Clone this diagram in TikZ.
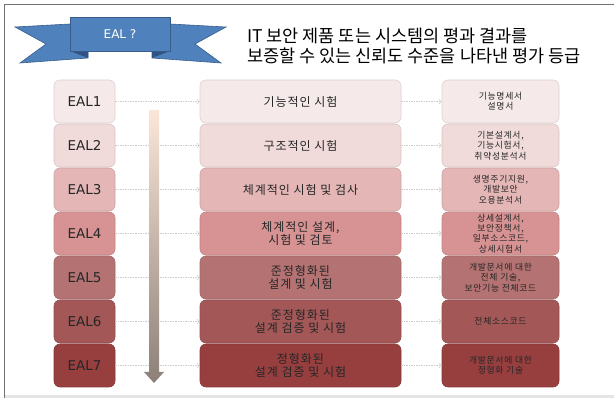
\documentclass[tikz,border=0pt]{standalone}
\usepackage{fontspec}
\setmainfont{Noto Sans CJK KR}[LetterSpace=8]
\newfontfamily\titlefont{Noto Sans CJK KR}
\newfontfamily\latinfont{DejaVu Sans}
\usetikzlibrary{arrows.meta}
\definecolor{c1}{HTML}{F5E9E9}
\definecolor{c2}{HTML}{F0DADA}
\definecolor{c3}{HTML}{E4B6B6}
\definecolor{c4}{HTML}{D79393}
\definecolor{c5}{HTML}{B47272}
\definecolor{c6}{HTML}{A35757}
\definecolor{c7}{HTML}{973F3F}
\definecolor{ribbon}{HTML}{4F81BD}
\definecolor{ribbonedge}{HTML}{385D8A}
\definecolor{ribbonfold}{HTML}{2E5283}
\definecolor{arrtop}{HTML}{FCE6D8}
\definecolor{arrbot}{HTML}{8C8078}
\tikzset{
  cell/.style={fill=#1, draw=#1!90!black, line width=0.6pt, rounded corners=6pt,
    minimum height=43pt, align=center, inner sep=0pt, text=black!85},
  eal/.style={cell=#1, minimum width=61pt, font=\latinfont\fontsize{13.5}{15}\selectfont},
  evalbox/.style={cell=#1, minimum width=201pt, font=\fontsize{12}{13}\selectfont},
  docbox/.style={cell=#1, minimum width=117pt, font=\fontsize{8.8}{10.3}\selectfont},
  conn/.style={draw=black!20, line width=0.5pt, dash pattern=on 1.5pt off 1pt,
    -{Straight Barb[length=2.5pt,width=5pt]}},
}
\begin{document}
\begin{tikzpicture}[x=1pt,y=-1pt]
\useasboundingbox (0,0) rectangle (614,398);
% frame
\fill[black!10] (4,395.5) rectangle (614,398);
\draw[black!55, line width=1.2pt] (4.5,398) -- (4.5,4.5) -- (614,4.5);
% ribbon
\fill[ribbon, draw=ribbonedge, line width=0.6pt] (15,27) -- (88,23) -- (88,58) -- (20,63) -- (46,44) -- cycle;
\fill[ribbon, draw=ribbonedge, line width=0.6pt] (226,27) -- (152,23) -- (152,58) -- (221,63) -- (195,44) -- cycle;
\fill[ribbonfold] (70,51) -- (88,58) -- (88,51) -- cycle;
\fill[ribbonfold] (170,51) -- (152,58) -- (152,51) -- cycle;
\node[fill=ribbon, draw=ribbonedge, line width=0.6pt, minimum width=100pt, minimum height=34pt,
  inner sep=0pt, text=white, font=\latinfont\fontsize{12}{14}\selectfont] (rib) at (120,34) {EAL ?};
\node[anchor=west, align=left, inner sep=0pt, font=\titlefont\fontsize{17.5}{20}\selectfont] (title) at (247,46)
  {IT 보안 제품 또는 시스템의 평과 결과를\\보증할 수 있는 신뢰도 수준을 나타낸 평가 등급};
% rows
\node[eal=c1] (e1) at (84.5,101.5) {EAL1};
\node[eal=c2] (e2) at (84.5,145.5) {EAL2};
\node[eal=c3] (e3) at (84.5,189.5) {EAL3};
\node[eal=c4] (e4) at (84.5,233.5) {EAL4};
\node[eal=c5] (e5) at (84.5,277.5) {EAL5};
\node[eal=c6] (e6) at (84.5,321.5) {EAL6};
\node[eal=c7] (e7) at (84.5,365.5) {EAL7};
\node[evalbox=c1] (d1) at (300.5,101.5) {기능적인 시험};
\node[evalbox=c2] (d2) at (300.5,145.5) {구조적인 시험};
\node[evalbox=c3] (d3) at (300.5,189.5) {체계적인 시험 및 검사};
\node[evalbox=c4] (d4) at (300.5,233.5) {체계적인 설계,\\시험 및 검토};
\node[evalbox=c5] (d5) at (300.5,277.5) {준정형화된\\설계 및 시험};
\node[evalbox=c6] (d6) at (300.5,321.5) {준정형화된\\설계 검증 및 시험};
\node[evalbox=c7] (d7) at (300.5,365.5) {정형화된\\설계 검증 및 시험};
\node[docbox=c1] (o1) at (500.5,101.5) {기능명세서\\설명서};
\node[docbox=c2] (o2) at (500.5,145.5) {기본설계서,\\기능시험서,\\취약성분석서};
\node[docbox=c3] (o3) at (500.5,189.5) {생명주기지원,\\개발보안\\오용분석서};
\node[docbox=c4] (o4) at (500.5,233.5) {상세설계서,\\보안정책서,\\일부소스코드,\\상세시험서};
\node[docbox=c5] (o5) at (500.5,277.5) {개발문서에 대한\\전체 기술,\\보안기능 전체코드};
\node[docbox=c6] (o6) at (500.5,321.5) {전체소스코드};
\node[docbox=c7] (o7) at (500.5,365.5) {개발문서에 대한\\정형화 기술};
\foreach \i in {1,...,7} {
  \draw[conn] (e\i) -- (d\i);
  \draw[conn] (d\i) -- (o\i);
}
% gradient arrow
\shade[top color=arrtop, bottom color=arrbot] (149,110) -- (159,110) -- (159,372) -- (164,372)
  -- (154,383) -- (144,372) -- (149,372) -- cycle;
\end{tikzpicture}
\end{document}
